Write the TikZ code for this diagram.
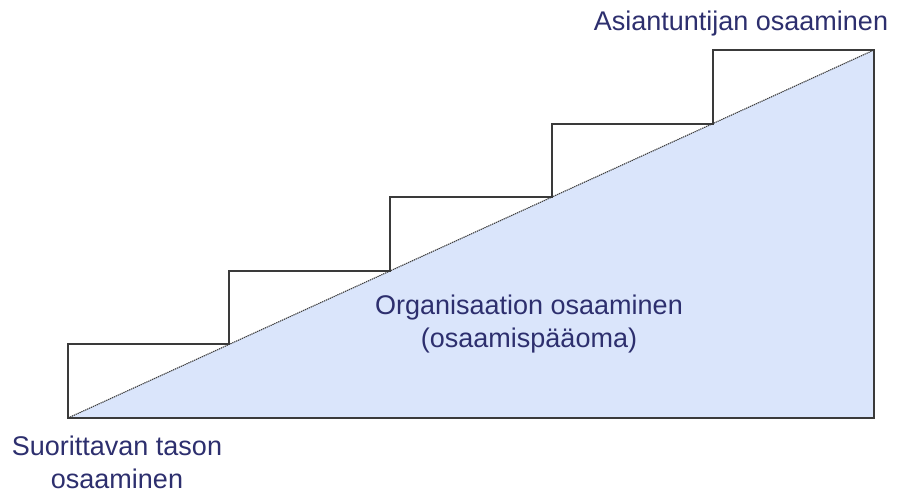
\documentclass[tikz,border=0pt]{standalone}
\usepackage{fontspec}
\setmainfont{Liberation Sans}
\usepackage{xcolor}
\usepackage{tikz}
\usetikzlibrary{calc}
\definecolor{bg}{HTML}{FFFFFF}
\definecolor{stepfill}{HTML}{DAE5FB}
\definecolor{edge}{HTML}{3A3A3A}
\definecolor{slope}{HTML}{404040}
\definecolor{navy}{HTML}{2D2F6E}
\tikzset{
  base/.style={draw=edge, line width=1.9pt, line cap=round, line join=miter},
  diag/.style={draw=slope, line width=1.1pt, dash pattern=on 1.3pt off 0.8pt},
  area/.style={fill=stepfill},
  lab/.style={text=navy, font=\fontsize{27}{33}\selectfont, align=center, inner sep=0pt, anchor=base},
}
\begin{document}
\begin{tikzpicture}[x=1pt,y=-1pt]
  \useasboundingbox[fill=bg] (0,0) rectangle (898,492);
  % corners of the stairs
  \foreach \i in {0,...,5}
    \coordinate (s\i) at ({68+161.2*\i},{418-73.6*\i});
  \coordinate (br) at (s5 |- s0);
  % area under the slope
  \fill[area] (s0) -- (s5) -- (br) -- cycle;
  \draw[diag] (s0) -- (s5);
  % staircase and frame
  \draw[base] (s0) |- (s1) |- (s2) |- (s3) |- (s4) |- (s5) -- (br) -- cycle;
  % labels
  \node[lab] (top) at (741,31) {Asiantuntijan osaaminen};
  \node[lab] (org) at (529,347) {Organisaation osaaminen\\(osaamispääoma)};
  \node[lab] (low) at (117,488) {Suorittavan tason\\osaaminen};
\end{tikzpicture}
\end{document}
